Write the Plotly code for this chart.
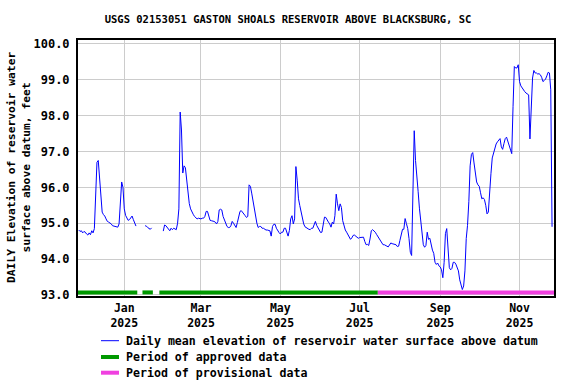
import pandas as pd
import plotly.graph_objects as go

# ---------------- data ----------------
start_date = "2024-11-27"
# Daily mean elevation (ft); None = missing day
elev = [
    # Nov 27 2024 - Jan 10 2025
    94.81, 94.77, 94.79, 94.73, 94.77, 94.75, 94.70, 94.67, 94.73, 94.68, 94.79, 94.73, 94.85,
    95.85, 96.70, 96.75, 96.20, 95.55, 95.31, 95.24, 95.20, 95.12, 95.05, 95.03, 95.01, 94.98,
    94.93, 94.92, 94.93, 94.92, 94.89, 94.98, 95.60, 96.15, 96.00, 95.40, 95.22, 95.12, 95.08,
    95.10, 95.14, 95.20, 95.10, 94.98, 94.92,
    None, None, None, None, None, None,
    94.93, 94.92, 94.88, 94.85, 94.83, 94.87,
    None, None, None, None, None, None, None, None,
    94.78, 94.95, 94.93, 94.89, 94.84, 94.79, 94.86, 94.82, 94.86, 94.85, 94.82, 95.00,
    95.40, 98.10, 97.60, 96.40, 96.60, 96.55, 96.20, 95.85, 95.55, 95.40, 95.31, 95.25, 95.19,
    95.14, 95.12, 95.14, 95.12, 95.12, 95.14, 95.14,
    95.19, 95.33, 95.33, 95.16, 95.08, 95.07, 95.07, 95.05, 95.03, 94.98, 95.05, 95.37, 95.39,
    95.37, 95.19, 95.09, 95.03, 94.91, 94.88, 94.88, 94.93, 95.05, 95.00, 94.93, 94.88, 95.02,
    95.19, 95.33, 95.35, 95.31, 95.28, 95.21, 95.16, 95.19, 96.07, 96.03, 95.84, 95.61, 95.33,
    95.16, 95.00, 94.88, 94.91, 94.91, 94.86, 94.86, 94.83, 94.81, 94.81, 94.79, 94.79, 94.64,
    94.91, 94.97,
    94.97, 94.86, 94.79, 94.74, 94.70, 94.75, 94.75, 94.86, 94.86, 94.77, 94.64, 94.80, 95.12,
    95.21, 94.98, 95.12, 96.58, 96.20, 95.68, 95.49, 95.31, 95.12, 94.98, 94.90, 94.87, 94.85,
    94.83, 94.82, 94.86, 94.86, 94.98, 95.05, 94.94, 94.86, 94.79, 94.74, 94.75, 94.95, 95.17,
    95.16, 95.07, 95.03, 94.98, 94.89, 95.03, 94.98, 95.21, 95.81, 95.54, 95.35, 95.54, 95.44,
    95.07, 94.92, 94.81, 94.75, 94.68, 94.60, 94.55, 94.59, 94.66, 94.67, 94.63, 94.59, 94.58,
    94.60, 94.61, 94.62, 94.61, 94.49, 94.40, 94.41, 94.38, 94.56, 94.79, 94.82, 94.79, 94.75,
    94.69, 94.63, 94.58, 94.49,
    94.42, 94.40, 94.40, 94.39, 94.36, 94.34, 94.42, 94.45, 94.43, 94.42, 94.40, 94.40, 94.35,
    94.36, 94.52, 94.66, 94.83, 94.83, 95.13, 94.99, 94.85, 94.57, 94.19, 94.10, 95.98, 97.58,
    96.75, 96.20, 95.89, 95.42, 95.04, 94.71, 94.40, 94.33, 94.38, 94.75, 94.55, 94.58, 94.38,
    94.25, 94.16, 93.91, 93.85, 93.89, 93.81, 93.78, 93.70, 93.48, 93.91, 94.71, 94.85, 94.14,
    93.76, 93.70, 93.74, 93.91, 93.91, 93.86, 93.78, 93.67, 93.42, 93.29, 93.15, 93.25, 93.67,
    94.57, 94.94, 95.60,
    96.60, 96.92, 96.97, 96.68, 96.43, 96.15, 96.07, 96.03, 95.85, 95.68, 95.71, 95.66, 95.50,
    95.26, 95.31, 95.73, 96.38, 96.82, 96.96, 97.11, 97.21, 97.27, 97.32, 97.36, 97.13, 97.06,
    97.22, 97.36, 97.40, 97.30, 97.18, 97.07, 96.94, 98.25, 99.37, 99.33, 99.33, 99.42, 98.95,
    98.83, 98.77, 98.70, 98.67, 98.63, 98.61, 98.58, 97.35, 98.30, 99.05, 99.26, 99.19, 99.19,
    99.16, 99.17, 99.14, 99.07, 98.95, 98.98, 99.02, 99.11, 99.21, 99.19, 98.72, 94.90,
]
dates = pd.date_range(start_date, periods=len(elev), freq="D")

approved_periods = [("2024-11-26", "2025-01-11"), ("2025-01-15", "2025-01-23"),
                    ("2025-01-28", "2025-07-15")]
provisional_periods = [("2025-07-15", "2025-11-28")]
period_level = 93.07

x_range = ["2024-11-26 10:00", "2025-11-27 12:00"]
y_range = [92.97, 100.11]
y_ticks = [93.0, 94.0, 95.0, 96.0, 97.0, 98.0, 99.0, 100.0]
x_tickvals = ["2025-01-01", "2025-03-01", "2025-05-01", "2025-07-01", "2025-09-01", "2025-11-01"]
x_ticktext = ["Jan<br>2025", "Mar<br>2025", "May<br>2025", "Jul<br>2025", "Sep<br>2025", "Nov<br>2025"]

title_text = "USGS 02153051 GASTON SHOALS RESERVOIR ABOVE BLACKSBURG, SC"
ytitle_text = "DAILY Elevation of reservoir water<br>surface above datum, feet"
legend_names = ["Daily mean elevation of reservoir water surface above datum",
                "Period of approved data", "Period of provisional data"]
legend_colors = ["#0000ff", "#009900", "#f040e0"]
legend_widths = [1, 4, 4]
FONT = "DejaVu Sans Mono"

# plot-area geometry (px)
PL, PT, PW, PH = 78, 40, 476, 256

# ---------------- figure ----------------
fig = go.Figure()
fig.add_trace(go.Scatter(
    x=dates, y=elev, mode="lines", connectgaps=False,
    line=dict(color=legend_colors[0], width=legend_widths[0]),
    name=legend_names[0],
))


def period_xy(periods):
    xs, ys = [], []
    for a, b in periods:
        xs += [a, b, None]
        ys += [period_level, period_level, None]
    return xs, ys


ax, ay = period_xy(approved_periods)
fig.add_trace(go.Scatter(x=ax, y=ay, mode="lines",
                         line=dict(color=legend_colors[1], width=legend_widths[1]),
                         name=legend_names[1]))
px_, py_ = period_xy(provisional_periods)
fig.add_trace(go.Scatter(x=px_, y=py_, mode="lines",
                         line=dict(color=legend_colors[2], width=legend_widths[2]),
                         name=legend_names[2]))

fig.update_layout(
    width=576, height=384,
    margin=dict(l=PL, r=576 - PL - PW, t=PT, b=384 - PT - PH),
    paper_bgcolor="white", plot_bgcolor="white",
    font=dict(family=FONT, size=11.5, color="black", weight="bold"),
    title=dict(text=title_text, x=0.5, xref="container", xanchor="center",
               y=1 - 19 / 384, yref="container", yanchor="middle",
               font=dict(family=FONT, size=10.5, color="black", weight="bold")),
    showlegend=False,
)

fig.update_xaxes(
    type="date", range=x_range,
    tickvals=x_tickvals, ticktext=x_ticktext,
    showgrid=True, gridcolor="#cccccc", gridwidth=1,
    showline=True, linecolor="black", linewidth=2, mirror=True,
    ticks="", zeroline=False,
    tickfont=dict(family=FONT, size=11.5, color="black", weight="bold"),
)
fig.update_yaxes(
    range=y_range, tickvals=y_ticks, tickformat=".1f",
    showgrid=True, gridcolor="#cccccc", gridwidth=1,
    showline=True, linecolor="black", linewidth=2, mirror=True,
    ticks="", zeroline=False, ticklabelstandoff=4,
    tickfont=dict(family=FONT, size=12, color="black", weight="bold"),
)

fig.add_annotation(
    text=ytitle_text, xref="paper", yref="paper",
    x=(19 - PL) / PW, y=0.5, xanchor="center", yanchor="middle",
    textangle=-90, showarrow=False, align="center",
    font=dict(family=FONT, size=11.3, color="black", weight="bold"),
)

# legend (drawn below the plot area)
row_y = [340.7, 357.0, 372.7]
for name, color, w, ry in zip(legend_names, legend_colors, legend_widths, row_y):
    yp = (PT + PH - ry) / PH
    fig.add_shape(type="line", xref="paper", yref="paper",
                  x0=(101 - PL) / PW, x1=(119 - PL) / PW, y0=yp, y1=yp,
                  line=dict(color=color, width=w))
    fig.add_annotation(text=name, xref="paper", yref="paper",
                       x=(124 - PL) / PW, y=yp, xanchor="left", yanchor="middle",
                       showarrow=False,
                       font=dict(family=FONT, size=11.6, color="black", weight="bold"))

fig.write_html("out.html")
